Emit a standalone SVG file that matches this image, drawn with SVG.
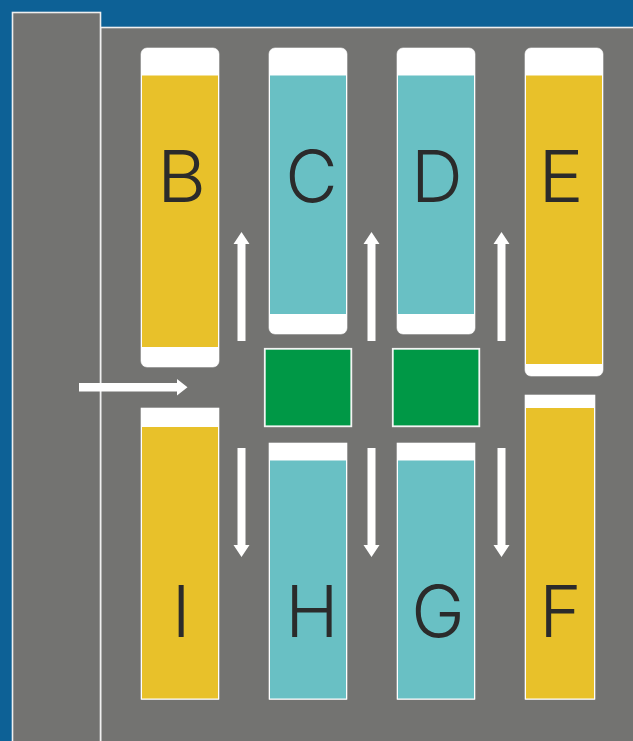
<svg xmlns="http://www.w3.org/2000/svg" width="633" height="741" viewBox="0 0 633 741">
<style>
.panel{fill:#737371;stroke:#efefef;stroke-width:1.6}
.cap{fill:#fff;stroke:#fff;stroke-width:.6}
.y{fill:#e8c12a}
.t{fill:#69c0c4}
.g{fill:#009846;stroke:#f4f4f4;stroke-width:1.8}
.a{fill:#fff}
text{font-family:"Inter","Liberation Sans",Arial,sans-serif;font-weight:300;font-size:72px;fill:#2b2b2b;text-anchor:middle}
</style>
<rect width="633" height="741" fill="#0d6196"/>
<g id="building">
<rect class="panel" x="100.5" y="27.5" width="540" height="720"/>
<rect class="panel" x="12.5" y="12.5" width="88" height="735"/>
</g>
<g id="node-b"><rect class="cap" x="141" y="48" width="78" height="319" rx="6"/><rect class="y" x="142" y="75.500" width="76" height="271.500"/><text transform="translate(181.500 201.500) scale(1.05 1)">B</text></g>
<g id="node-c"><rect class="cap" x="269" y="48" width="78" height="286" rx="6"/><rect class="t" x="270" y="75.500" width="76" height="238.500"/><text x="311.500" y="201.500">C</text></g>
<g id="node-d"><rect class="cap" x="397" y="48" width="78" height="286" rx="6"/><rect class="t" x="398" y="75.500" width="76" height="238.500"/><text x="437" y="201.500">D</text></g>
<g id="node-e"><rect class="cap" x="525" y="48" width="78" height="328" rx="6"/><rect class="y" x="526" y="75.500" width="76" height="288.500"/><text transform="translate(561 201.500) scale(1.06 1)">E</text></g>
<g id="node-i"><rect class="cap" x="141" y="408" width="78" height="291.500"/><rect class="y" x="142" y="427" width="76" height="271.500"/><text x="181.300" y="637">I</text></g>
<g id="node-h"><rect class="cap" x="269" y="443" width="78" height="256.500"/><rect class="t" x="270" y="460.500" width="76" height="238"/><text x="312" y="637">H</text></g>
<g id="node-g"><rect class="cap" x="397" y="443" width="78" height="256.500"/><rect class="t" x="398" y="460.500" width="76" height="238"/><text x="438" y="637">G</text></g>
<g id="node-f"><rect class="cap" x="525" y="395" width="70" height="304.500"/><rect class="y" x="526" y="408" width="68" height="290.500"/><text x="560.500" y="637">F</text></g>
<g id="node-green-1"><rect class="g" x="264.800" y="348.800" width="86.500" height="77.500"/></g>
<g id="node-green-2"><rect class="g" x="392.800" y="348.800" width="86.500" height="77.500"/></g>
<g id="connectors">
<path class="a" d="M79 383H177V379L187.500 387.300L177 395.500V391.500H79Z"/>
<path class="a" id="up1" d="M237.500 341V244H233.500L241.500 232L249.500 244H245.500V341Z"/>
<path class="a" id="up2" d="M367.500 341V244H363.500L371.500 232L379.500 244H375.500V341Z"/>
<path class="a" id="up3" d="M497.500 341V244H493.500L501.500 232L509.500 244H505.500V341Z"/>
<path class="a" id="down1" d="M237.500 448V545H233.500L241.500 557L249.500 545H245.500V448Z"/>
<path class="a" id="down2" d="M367.500 448V545H363.500L371.500 557L379.500 545H375.500V448Z"/>
<path class="a" id="down3" d="M497.500 448V545H493.500L501.500 557L509.500 545H505.500V448Z"/>
</g>
</svg>
